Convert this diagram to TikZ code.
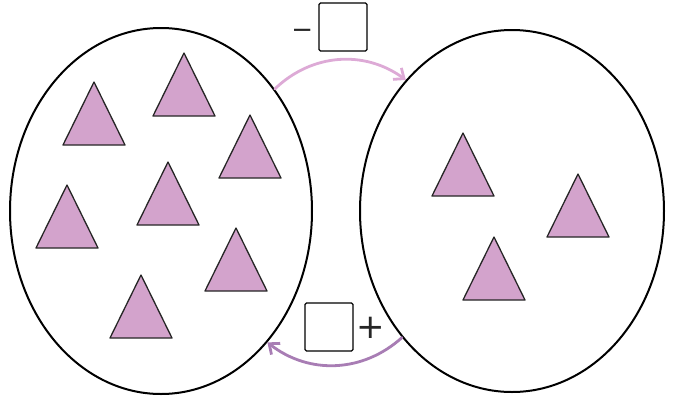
\documentclass[tikz,border=0pt]{standalone}
\usepackage{fontspec}
\newfontfamily\signfont{DejaVu Sans}
\usetikzlibrary{arrows.meta,shapes.geometric,positioning}
\definecolor{tripink}{HTML}{D3A3CC}
\definecolor{lightarr}{HTML}{DDAAD6}
\definecolor{darkarr}{HTML}{A87DB4}
\begin{document}
\begin{tikzpicture}[x=1pt,y=-1pt,
 set/.style={draw,ellipse,line width=2pt,inner sep=0pt},
 tri/.style={draw=black!85,fill=tripink,line width=1.3pt,line join=round},
 box/.style={draw,rounded corners=1.5pt,line width=1.4pt,minimum size=48pt,inner sep=0pt},
 sgn/.style={font=\signfont\fontsize{34}{36}\selectfont,inner sep=0pt,text=black!85},
 a/.style={-{Straight Barb[length=3mm,width=5mm]},line width=2.8pt,line cap=round}]
\useasboundingbox (0,0) rectangle (673,400);
\node[set,minimum width=302pt,minimum height=366pt] (left) at (161,211) {};
\node[set,minimum width=304pt,minimum height=362pt] (right) at (512,211) {};
% triangles, apex points
\foreach \x/\y in {94/82,184/53,250/115,168/162,67/185,236/228,141/275,463/133,578/174,494/237}
  \draw[tri] (\x,\y) -- ++(-31,63) -- ++(62,0) -- cycle;
\node[box] (tb) at (343,27) {};
\node[sgn,font=\signfont\fontsize{26}{28}\selectfont,left=5pt of tb,yshift=-7pt] (minus) {−};
\node[box] (bb) at (329,327) {};
\node[sgn,right=3pt of bb,yshift=-1pt] (plus) {+};
\draw[a,lightarr] (left.47) to[bend left=40] (right.129);
\draw[a,darkarr] (right.229) to[bend left=40] (left.309);
\end{tikzpicture}
\end{document}
